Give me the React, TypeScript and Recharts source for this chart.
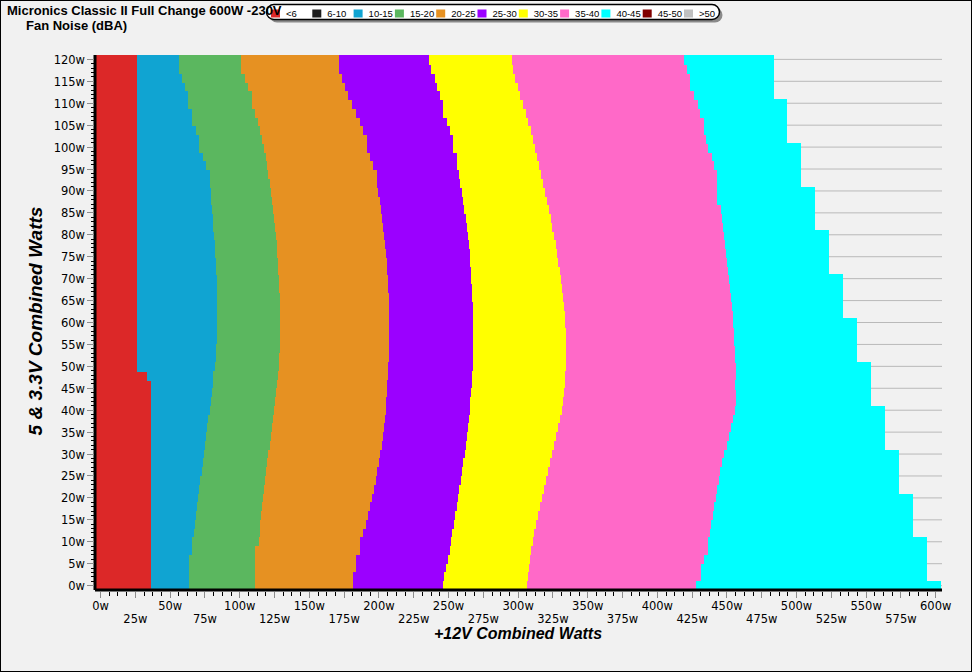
import React from 'react';
import { BarChart, Bar, XAxis, YAxis, CartesianGrid } from 'recharts';

// 5V & 3.3V combined load of each row (W)
const ROWS_5V = [
  0, 2, 4, 6, 8, 10, 12, 14, 16, 18,
  20, 22, 24, 26, 28, 30, 32, 34, 36, 38,
  40, 42, 44, 46, 48, 50, 52, 54, 56, 58,
  60, 62, 64, 66, 68, 70, 72, 74, 76, 78,
  80, 82, 84, 86, 88, 90, 92, 94, 96, 98,
  100, 102, 104, 106, 108, 110, 112, 114, 116, 118,
  120,
];

// +12V load (W) at which each noise band ends, per row
const EDGE_LT6 = [
  36, 36, 36, 36, 36, 36, 36, 36, 36, 36,
  36, 36, 36, 36, 36, 36, 36, 36, 36, 36,
  36, 36, 36, 36, 33, 26, 26, 26, 26, 26,
  26, 26, 26, 26, 26, 26, 26, 26, 26, 26,
  26, 26, 26, 26, 26, 26, 26, 26, 26, 26,
  26, 26, 26, 26, 26, 26, 26, 26, 26, 26,
  26,
];
const EDGE_10_15 = [
  63.6, 63.6, 63.6, 63.6, 65.5, 65.5, 67.1, 67.9, 68.6, 69.3,
  70.0, 70.7, 71.5, 72.9, 73.6, 74.3, 75.0, 75.8, 76.5, 77.2,
  78.6, 79.4, 80.1, 80.8, 80.8, 82.2, 82.9, 82.9, 83.7, 83.7,
  83.7, 83.7, 83.7, 83.7, 83.7, 83.7, 82.9, 82.9, 82.2, 82.2,
  81.5, 80.8, 80.8, 80.1, 79.4, 79.4, 78.6, 78.6, 75.8, 73.4,
  70.7, 70.7, 68.4, 65.5, 65.5, 63.0, 63.0, 60.7, 58.3, 56.4,
  56.4,
];
const EDGE_15_20 = [
  111.0, 111.0, 111.0, 111.0, 111.0, 114.0, 114.5, 114.5, 115.3, 116.0,
  116.7, 117.4, 118.1, 118.8, 119.6, 120.3, 121.7, 122.4, 123.2, 123.9,
  124.6, 125.3, 126.0, 126.8, 127.5, 128.2, 128.2, 128.9, 128.9, 128.9,
  128.9, 128.9, 128.9, 128.9, 128.2, 128.2, 127.5, 127.5, 126.8, 126.8,
  126.0, 125.3, 124.6, 123.9, 123.2, 122.4, 121.7, 120.3, 119.6, 118.8,
  117.4, 116.0, 114.5, 113.3, 111.0, 108.6, 108.6, 106.1, 103.8, 100.9,
  100.9,
];
const EDGE_20_25 = [
  181.1, 181.1, 183.5, 183.5, 186.4, 186.4, 188.5, 190.7, 192.1, 193.5,
  195.0, 196.4, 197.8, 198.6, 200.0, 200.7, 202.2, 202.9, 203.6, 204.3,
  205.0, 205.0, 205.7, 205.7, 206.5, 206.5, 207.2, 207.2, 207.2, 207.2,
  207.2, 207.2, 207.2, 207.2, 206.5, 206.5, 205.7, 205.7, 205.0, 204.3,
  203.6, 202.9, 202.2, 201.4, 200.7, 199.3, 198.4, 198.4, 195.9, 193.5,
  191.2, 191.2, 188.7, 186.4, 183.3, 180.8, 178.0, 175.6, 173.2, 171.3,
  171.3,
];
const EDGE_25_30 = [
  246.0, 246.7, 248.1, 249.5, 251.0, 251.7, 252.4, 253.9, 254.6, 256.0,
  256.7, 257.5, 258.9, 259.6, 260.3, 261.7, 262.5, 263.2, 263.9, 264.6,
  265.4, 265.4, 266.1, 266.8, 266.8, 267.5, 267.5, 267.5, 267.5, 267.5,
  267.5, 267.5, 267.5, 266.8, 266.8, 266.1, 266.1, 265.4, 265.4, 264.6,
  263.9, 263.2, 262.5, 261.0, 260.3, 259.6, 258.2, 257.5, 256.0, 255.8,
  253.4, 253.4, 251.0, 248.6, 246.2, 246.2, 243.8, 241.4, 240.2, 237.3,
  235.9,
];
const EDGE_30_35 = [
  306.3, 307.0, 307.7, 308.4, 309.2, 310.6, 311.3, 312.7, 314.2, 315.6,
  317.1, 318.5, 319.9, 321.4, 322.8, 324.2, 325.7, 327.1, 328.5, 330.0,
  331.4, 332.1, 332.8, 333.5, 333.5, 334.3, 334.3, 334.3, 334.3, 334.3,
  333.5, 333.5, 332.8, 332.1, 331.4, 330.7, 330.0, 328.5, 327.8, 327.1,
  325.7, 324.2, 323.5, 322.1, 320.6, 319.2, 317.8, 316.3, 314.9, 313.4,
  312.0, 310.6, 309.2, 307.0, 305.6, 303.4, 301.3, 299.8, 297.7, 296.2,
  295.5,
];
const EDGE_35_40 = [
  428.1, 431.2, 431.2, 433.4, 436.1, 436.1, 437.7, 438.4, 439.9, 440.6,
  442.0, 442.7, 444.2, 444.9, 446.3, 447.8, 449.9, 451.3, 452.8, 454.2,
  455.7, 456.4, 456.4, 455.7, 456.4, 456.4, 455.7, 455.7, 454.9, 454.9,
  454.2, 454.2, 453.5, 452.8, 452.1, 451.3, 450.6, 449.9, 449.2, 448.5,
  447.8, 447.0, 446.3, 445.4, 443.2, 443.2, 443.2, 443.2, 440.8, 439.1,
  436.5, 434.8, 433.6, 433.6, 431.0, 429.1, 426.2, 423.3, 423.3, 421.0,
  419.0,
];
const EDGE_40_45 = [
  603.5, 593.5, 593.5, 593.5, 593.5, 593.5, 583.5, 583.5, 583.5, 583.5,
  583.5, 573.5, 573.5, 573.5, 573.5, 573.5, 563.5, 563.5, 563.5, 563.5,
  563.5, 553.5, 553.5, 553.5, 553.5, 553.5, 543.5, 543.5, 543.5, 543.5,
  543.5, 533.5, 533.5, 533.5, 533.5, 533.5, 523.5, 523.5, 523.5, 523.5,
  523.5, 513.5, 513.5, 513.5, 513.5, 513.5, 503.5, 503.5, 503.5, 503.5,
  503.5, 493.5, 493.5, 493.5, 493.5, 493.5, 483.5, 483.5, 483.5, 483.5,
  483.5,
];

const X_START = -4; // left edge of the first cell on the +12V axis
const X_END = 604.5;

const LEGEND_LABELS = ['<6', '6-10', '10-15', '15-20', '20-25', '25-30', '30-35', '35-40', '40-45', '45-50', '>50'];
const LEGEND_COLORS = ['#DC2828', '#1E1E1E', '#10A4D2', '#5BB75F', '#E69122', '#9B00FF', '#FFFF00', '#FF69C8', '#00FFFF', '#800000', '#C0C0C0'];

const BANDS = [
  { key: 'lt6', edges: EDGE_LT6, color: LEGEND_COLORS[0] },
  { key: 'b10', edges: EDGE_10_15, color: LEGEND_COLORS[2] },
  { key: 'b15', edges: EDGE_15_20, color: LEGEND_COLORS[3] },
  { key: 'b20', edges: EDGE_20_25, color: LEGEND_COLORS[4] },
  { key: 'b25', edges: EDGE_25_30, color: LEGEND_COLORS[5] },
  { key: 'b30', edges: EDGE_30_35, color: LEGEND_COLORS[6] },
  { key: 'b35', edges: EDGE_35_40, color: LEGEND_COLORS[7] },
  { key: 'b40', edges: EDGE_40_45, color: LEGEND_COLORS[8] },
];

const Y_MAJOR_TICKS = [0, 5, 10, 15, 20, 25, 30, 35, 40, 45, 50, 55, 60, 65, 70, 75, 80, 85, 90, 95, 100, 105, 110, 115, 120];
const X_MAJOR_TICKS = [0, 25, 50, 75, 100, 125, 150, 175, 200, 225, 250, 275, 300, 325, 350, 375, 400, 425, 450, 475, 500, 525, 550, 575, 600];
const Y_ALL_TICKS: number[] = [];
for (let v = 0; v <= 120; v += 1) Y_ALL_TICKS.push(v);
const X_ALL_TICKS: number[] = [];
for (let v = 0; v <= 600; v += 6.25) X_ALL_TICKS.push(v);

const data = ROWS_5V.map((y, i) => {
  const row: any = { y, pad: X_START };
  let prev = X_START;
  BANDS.forEach((b) => {
    row[b.key] = +(b.edges[i] - prev).toFixed(3);
    prev = b.edges[i];
  });
  return row;
});

const TICK_FONT = { fontFamily: '"DejaVu Sans", Verdana, sans-serif', fontSize: 11.5, fill: '#000' };

const BandShape = (p: any) => {
  const { x, y, width, height, fill } = p;
  if (!fill || fill === 'none' || width == null || height == null) return <g />;
  const x0 = Math.min(x, x + width);
  return <rect x={x0} y={y} width={Math.abs(width)} height={height + 1} fill={fill} shapeRendering="crispEdges" />;
};

const YTick = (p: any) => {
  const { x, y, payload } = p;
  const v = payload.value;
  const major = Y_MAJOR_TICKS.includes(v);
  return (
    <g>
      <line x1={x - (major ? 8 : 4.5)} x2={x - 1.5} y1={y} y2={y} stroke={major ? '#8C8C8C' : '#000'} strokeWidth={1} shapeRendering="crispEdges" />
      {major && (
        <text x={x - 10} y={y + 4.5} textAnchor="end" {...TICK_FONT}>{`${v}w`}</text>
      )}
    </g>
  );
};

const XTick = (p: any) => {
  const { x, y, payload } = p;
  const v = payload.value;
  const idx = X_MAJOR_TICKS.indexOf(v);
  const major = idx >= 0;
  return (
    <g>
      <line x1={x} x2={x} y1={y + 1.5} y2={y + (major ? 8 : 6)} stroke={major ? '#8C8C8C' : '#000'} strokeWidth={1} shapeRendering="crispEdges" />
      {major && (
        <text x={x} y={y + (idx % 2 === 1 ? 33 : 20)} textAnchor="middle" {...TICK_FONT}>{`${v}w`}</text>
      )}
    </g>
  );
};

const TITLE_FONT = '"Liberation Sans", Arial, sans-serif';

export default function App() {
  return (
    <div style={{ position: 'absolute', left: 0, top: 0, width: 972, height: 672, background: '#F1F1F1', overflow: 'hidden' }}>
      <div style={{ position: 'absolute', left: 0, top: 0 }}>
        <BarChart
          width={972}
          height={672}
          data={data}
          layout="vertical"
          margin={{ top: 55, right: 30, bottom: 42, left: 0 }}
          barCategoryGap={0}
          barGap={0}
        >
          <CartesianGrid yAxisId="num" vertical={false} horizontalValues={Y_MAJOR_TICKS} stroke="#B9B9B9" strokeWidth={1} />
          <XAxis
            type="number"
            domain={[X_START, X_END]}
            ticks={X_ALL_TICKS}
            interval={0}
            allowDataOverflow
            height={40}
            tickSize={0}
            tickMargin={0}
            tickLine={false}
            axisLine={{ stroke: '#000', strokeWidth: 3 }}
            tick={<XTick />}
          />
          <YAxis yAxisId="cat" type="category" dataKey="y" reversed hide width={0} />
          <YAxis
            yAxisId="num"
            type="number"
            dataKey="y"
            domain={[-1, 121]}
            ticks={Y_ALL_TICKS}
            interval={0}
            allowDataOverflow
            reversed
            width={95}
            tickSize={0}
            tickMargin={0}
            tickLine={false}
            axisLine={{ stroke: '#000', strokeWidth: 3 }}
            tick={<YTick />}
          />
          <Bar dataKey="pad" stackId="s" yAxisId="cat" fill="none" isAnimationActive={false} shape={BandShape} />
          {BANDS.map((b) => (
            <Bar key={b.key} dataKey={b.key} stackId="s" yAxisId="cat" fill={b.color} isAnimationActive={false} shape={BandShape} />
          ))}
        </BarChart>
      </div>
      <svg width={972} height={672} style={{ position: 'absolute', left: 0, top: 0, pointerEvents: 'none' }}>
        <rect x={0.5} y={0.5} width={971} height={671} fill="none" stroke="#000" strokeWidth={1} />
        <g>
          <rect x={269.5} y={7.5} width={453} height={15} rx={7.5} fill="#8A8A8A" />
          <rect x={266.5} y={4.5} width={453} height={15} rx={7.5} fill="#FFF" stroke="#000" strokeWidth={1.5} />
          {LEGEND_LABELS.map((lab, i) => (
            <g key={lab}>
              <rect x={271 + i * 41.3} y={9.5} width={9} height={8} fill={LEGEND_COLORS[i]} />
              <text x={286 + i * 41.3} y={17} fontFamily={TITLE_FONT} fontSize={9.5} fill="#000">{lab}</text>
            </g>
          ))}
        </g>
        <text x={7} y={15} fontFamily={TITLE_FONT} fontWeight="bold" fontSize={13} fill="#000">Micronics Classic II Full Change 600W -230V</text>
        <text x={26} y={30} fontFamily={TITLE_FONT} fontWeight="bold" fontSize={13} fill="#000">Fan Noise (dBA)</text>
        <text x={518} y={639} textAnchor="middle" fontFamily={TITLE_FONT} fontWeight="bold" fontStyle="italic" fontSize={16} fill="#000">+12V Combined Watts</text>
        <text transform="translate(42, 321) rotate(-90)" textAnchor="middle" fontFamily={TITLE_FONT} fontWeight="bold" fontStyle="italic" fontSize={19} fill="#000">5 &amp; 3.3V Combined Watts</text>
      </svg>
    </div>
  );
}
